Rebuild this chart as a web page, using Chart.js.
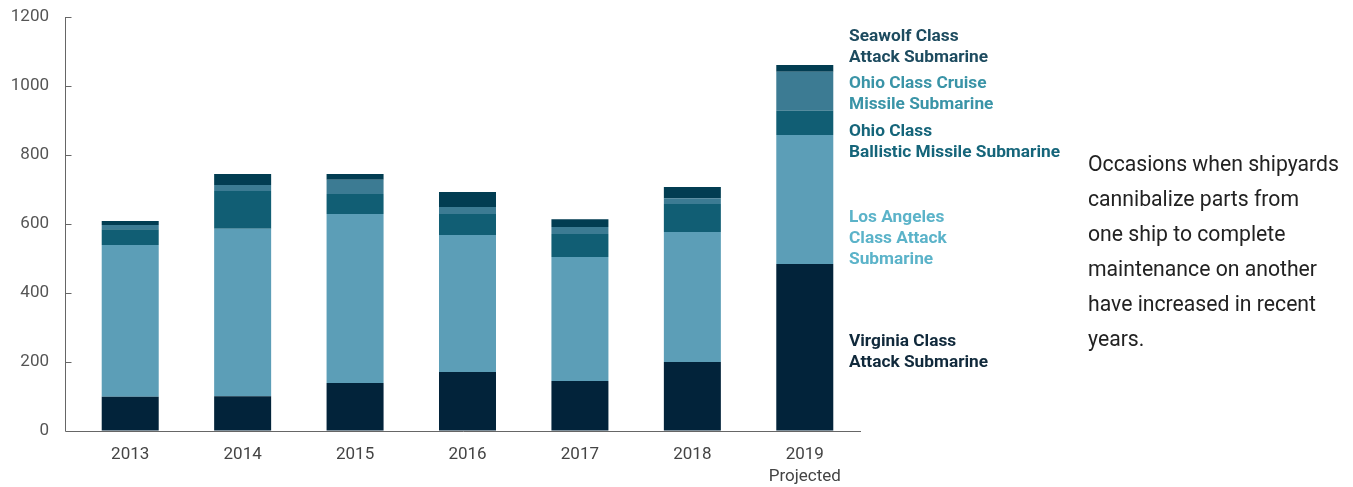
<!DOCTYPE html>
<html>
<head>
<meta charset="utf-8">
<script src="https://cdn.jsdelivr.net/npm/chart.js@4.4.1/dist/chart.umd.min.js"></script>
<style>
  html, body { margin: 0; padding: 0; background: #fff; }
  #wrap { position: relative; width: 1353px; height: 487px; overflow: hidden; }
  #wrap canvas { position: absolute; left: 0; top: 0; }
  .lbl { position: absolute; left: 849px; font-family: Roboto, sans-serif; font-weight: 700; font-size: 17.3px; line-height: 21px; white-space: nowrap; }
  #note { position: absolute; left: 1088px; top: 146px; font-family: Roboto, sans-serif; font-size: 21.2px; line-height: 35px; color: #222; }
</style>
</head>
<body>
<div id="wrap">
  <canvas id="chart-1" width="1353" height="487"></canvas>
  <div class="lbl" style="top:25px;color:#1d4b5f">Seawolf Class<br>Attack Submarine</div>
  <div class="lbl" style="top:72px;color:#3a94a7">Ohio Class Cruise<br>Missile Submarine</div>
  <div class="lbl" style="top:120px;color:#15657a">Ohio Class<br>Ballistic Missile Submarine</div>
  <div class="lbl" style="top:206px;color:#5bb3c9">Los Angeles<br>Class Attack<br>Submarine</div>
  <div class="lbl" style="top:330px;color:#10293b">Virginia Class<br>Attack Submarine</div>
  <div id="note">Occasions when shipyards<br>cannibalize parts from<br>one ship to complete<br>maintenance on another<br>have increased in recent<br>years.</div>
</div>
<script>
const years = ['2013', '2014', '2015', '2016', '2017', '2018', ['2019', 'Projected']];
const virginia = [99, 101, 139, 171, 145, 200, 484];
const losAngeles = [440, 485, 490, 397, 359, 377, 374];
const ohioBallistic = [46, 110, 58, 61, 67, 81, 70];
const ohioCruise = [12, 17, 41, 20, 20, 17, 113];
const seawolf = [12, 32, 17, 44, 23, 32, 20];
const yTicks = [0, 200, 400, 600, 800, 1000, 1200];

// axis lines drawn by hand: y axis sits a bit left of the first bar slot
const axisLines = {
    id: 'axisLines',
    afterDraw(chart) {
        const ctx = chart.ctx;
        const y = chart.scales.y;
        const area = chart.chartArea;
        const x0 = area.left - 8.5;
        ctx.save();
        ctx.strokeStyle = '#666';
        ctx.lineWidth = 1;
        ctx.beginPath();
        ctx.moveTo(x0, y.getPixelForValue(1200));
        ctx.lineTo(x0, Math.round(area.bottom) + 0.5);
        ctx.lineTo(area.right, Math.round(area.bottom) + 0.5);
        yTicks.forEach(t => {
            if (t === 0) return;
            const py = Math.round(y.getPixelForValue(t)) + 0.5;
            ctx.moveTo(x0, py);
            ctx.lineTo(x0 + 6, py);
        });
        ctx.stroke();
        ctx.restore();
    }
};

const data = {
    labels: years,
    datasets: [
        { label: 'Virginia Class Attack Submarine', data: virginia, backgroundColor: '#02233a' },
        { label: 'Los Angeles Class Attack Submarine', data: losAngeles, backgroundColor: '#5c9eb7' },
        { label: 'Ohio Class Ballistic Missile Submarine', data: ohioBallistic, backgroundColor: '#115e74' },
        { label: 'Ohio Class Cruise Missile Submarine', data: ohioCruise, backgroundColor: '#3c7b93' },
        { label: 'Seawolf Class Attack Submarine', data: seawolf, backgroundColor: '#023d52' }
    ]
};

const config = {
    type: 'bar',
    data: data,
    options: {
        responsive: false,
        animation: false,
        layout: { padding: { top: 17, right: 492, left: 0, bottom: 0 } },
        datasets: { bar: { categoryPercentage: 1, barPercentage: 0.507, borderWidth: 0 } },
        plugins: { legend: { display: false }, tooltip: { enabled: false } },
        scales: {
            x: {
                stacked: true,
                grid: { display: false, drawTicks: false },
                border: { display: false },
                ticks: { color: '#444', font: { family: 'Roboto', size: 17, lineHeight: 1.3 }, padding: 13, maxRotation: 0 },
                afterFit: (scale) => { scale.height = 56; }
            },
            y: {
                stacked: true,
                min: 0,
                max: 1200,
                afterBuildTicks: (scale) => { scale.ticks = yTicks.map(v => ({ value: v })); },
                // invisible tick marks push the labels away from the plot
                grid: { drawOnChartArea: false, drawTicks: true, tickLength: 25, tickColor: 'rgba(0,0,0,0)' },
                border: { display: false },
                ticks: { color: '#555', font: { family: 'Roboto', size: 17 }, padding: 0, callback: (v) => String(v) },
                afterFit: (scale) => { scale.width = 74; }
            }
        }
    },
    plugins: [axisLines]
};

const ctx = document.getElementById('chart-1').getContext('2d');
new Chart(ctx, config);
</script>
</body>
</html>
